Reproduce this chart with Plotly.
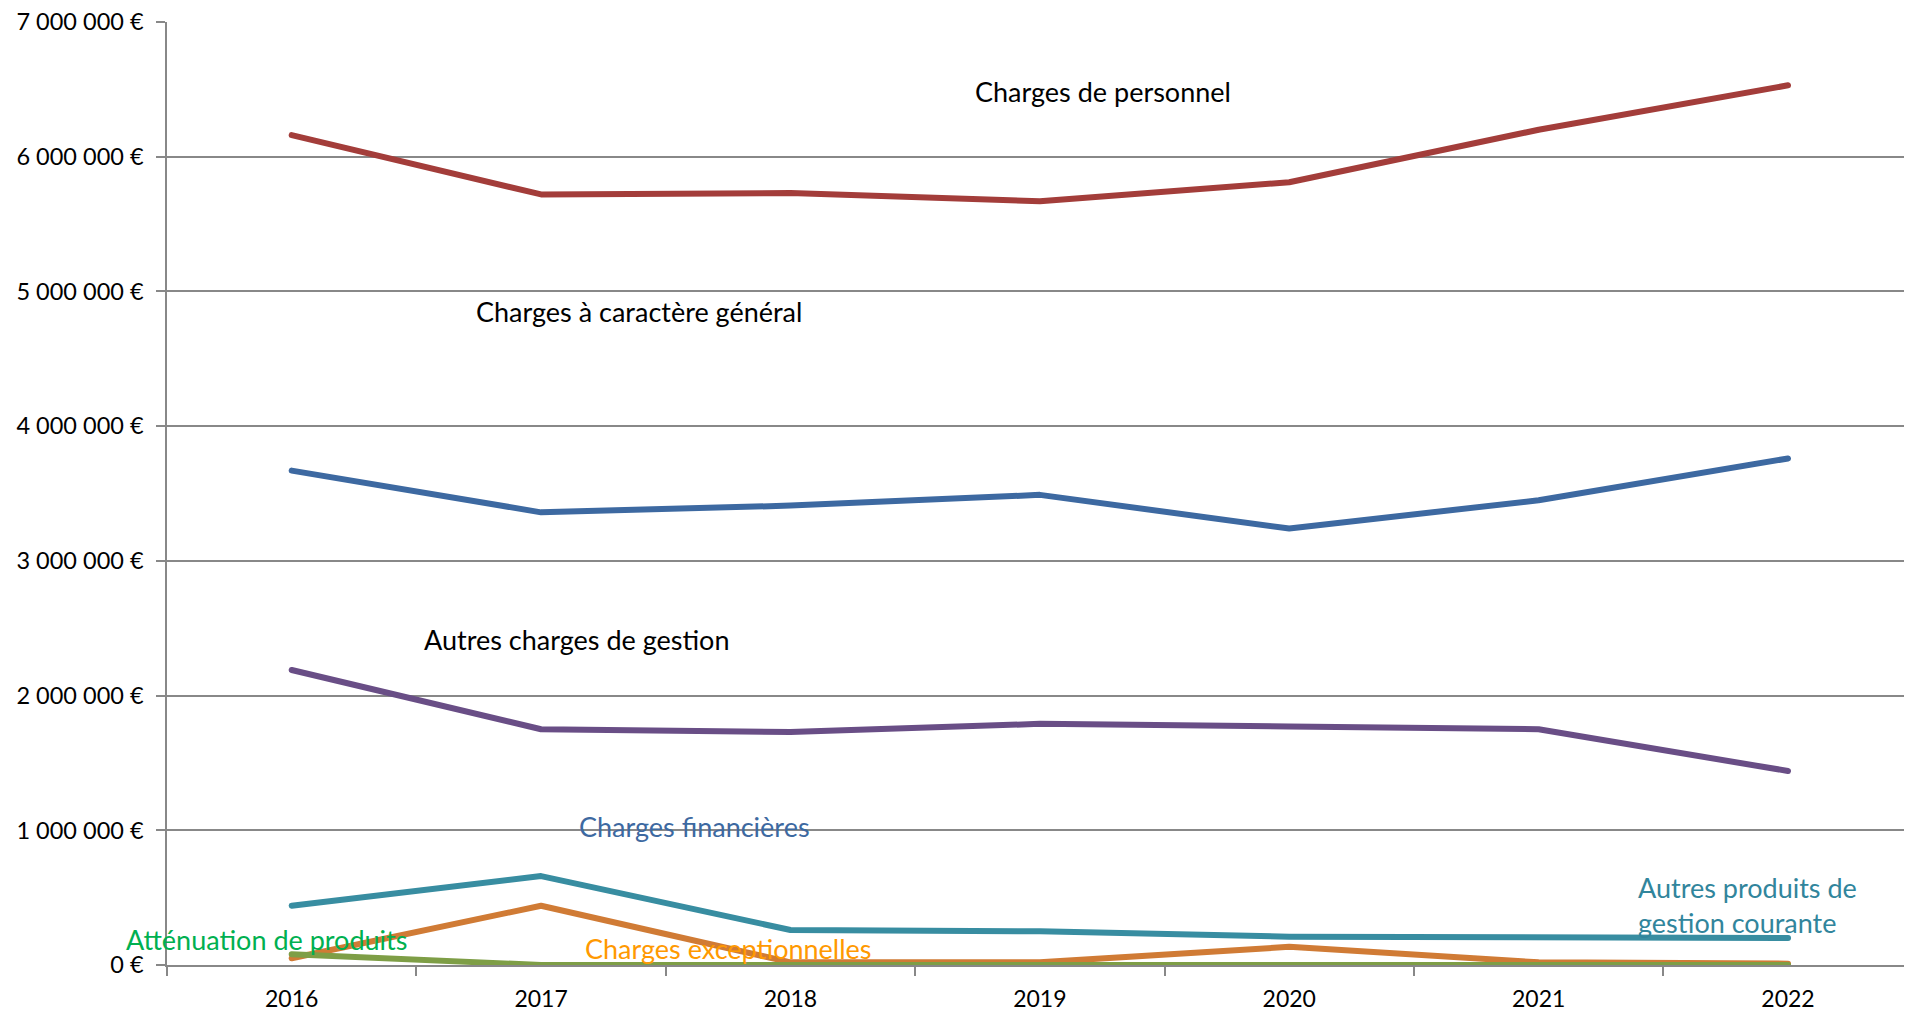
import plotly.graph_objects as go

years = ["2016", "2017", "2018", "2019", "2020", "2021", "2022"]

charges_personnel = [6160000, 5720000, 5730000, 5670000, 5810000, 6200000, 6530000]
charges_generales = [3670000, 3360000, 3410000, 3490000, 3240000, 3450000, 3760000]
autres_charges_gestion = [2190000, 1750000, 1730000, 1790000, 1770000, 1750000, 1440000]
autres_produits_gestion = [440000, 660000, 260000, 250000, 210000, 200000, 200000]
charges_exceptionnelles = [50000, 440000, 20000, 20000, 135000, 20000, 10000]
attenuation_produits = [80000, 0, 0, 0, 0, 0, 0]

y_tickvals = [0, 1000000, 2000000, 3000000, 4000000, 5000000, 6000000, 7000000]
y_ticktext = ["0 €", "1 000 000 €", "2 000 000 €", "3 000 000 €", "4 000 000 €",
              "5 000 000 €", "6 000 000 €", "7 000 000 €"]

series = [
    ("Charges de personnel", charges_personnel, "#A33D3A"),
    ("Charges à caractère général", charges_generales, "#3D69A1"),
    ("Autres charges de gestion", autres_charges_gestion, "#694E86"),
    ("Autres produits de gestion courante", autres_produits_gestion, "#388DA1"),
    ("Charges exceptionnelles", charges_exceptionnelles, "#D07B35"),
    ("Atténuation de produits", attenuation_produits, "#7E9E46"),
]

FONT = "Lato, 'Open Sans', sans-serif"

fig = go.Figure()
for name, vals, col in series:
    fig.add_trace(go.Scatter(x=years, y=vals, name=name, mode="lines",
                             line=dict(color=col, width=6), cliponaxis=False))

# (text, paper x, paper y, colour)
labels = [
    ("Charges de personnel", 0.4640, 0.9258, "#000000"),
    ("Charges à caractère général", 0.1765, 0.6935, "#000000"),
    ("Autres charges de gestion", 0.1470, 0.3447, "#000000"),
    ("Charges financières", 0.2358, 0.1474, "#3D69A1"),
    ("Autres produits de<br>gestion courante", 0.8458, 0.0641, "#31859C"),
    ("Atténuation de produits", -0.0245, 0.0275, "#00B050"),
    ("Charges exceptionnelles", 0.2393, 0.0180, "#FF9900"),
]
for txt, x, y, col in labels:
    fig.add_annotation(x=x, y=y, xref="paper", yref="paper", text=txt, showarrow=False,
                       xanchor="left", yanchor="middle", align="left",
                       font=dict(family=FONT, size=27, color=col))

grid = "#888888"
fig.update_layout(
    width=1905, height=1012,
    margin=dict(l=167, r=1, t=22, b=47),
    paper_bgcolor="white", plot_bgcolor="white",
    showlegend=False,
    font=dict(family=FONT, size=23, color="#000000"),
    xaxis=dict(type="category", range=[-0.5, 6.465], tickson="boundaries",
               ticks="outside", ticklen=9, tickcolor=grid, tickwidth=1.5,
               showline=True, linecolor=grid, linewidth=1.5, showgrid=False,
               ticklabelstandoff=13,
               tickfont=dict(family=FONT, size=23, color="#000000")),
    yaxis=dict(range=[0, 7000000], tickvals=y_tickvals, ticktext=y_ticktext,
               ticks="outside", ticklen=9, tickcolor=grid, tickwidth=1.5,
               showline=True, linecolor=grid, linewidth=1.5,
               showgrid=True, gridcolor=grid, gridwidth=1.5, zeroline=False,
               ticklabelstandoff=8, ticklabeloverflow="allow",
               tickfont=dict(family=FONT, size=23.5, color="#000000")),
)

fig.write_html("out.html", config={"displayModeBar": False},
               post_script="document.body.style.margin='0';document.body.style.overflow='hidden';"
                           "document.querySelectorAll('.scatterlayer path.js-line').forEach(function(p){p.style.strokeLinecap='round';p.style.strokeLinejoin='round';});")
